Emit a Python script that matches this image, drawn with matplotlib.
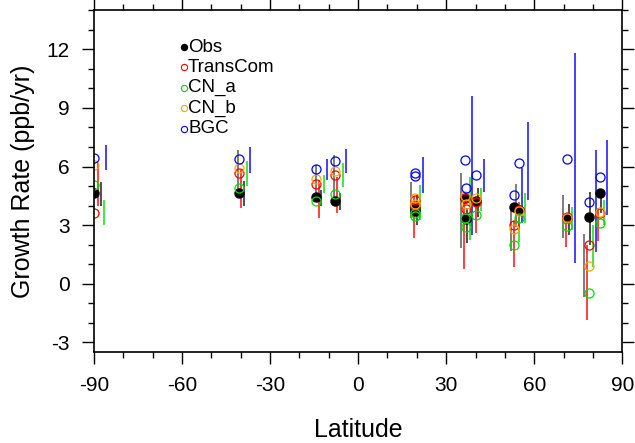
import numpy as np
import matplotlib
matplotlib.use("Agg")
import matplotlib.pyplot as plt

plt.rcParams['font.family'] = ['Liberation Sans', 'DejaVu Sans']
plt.rcParams['axes.unicode_minus'] = False

# station latitudes (markers) and latitude of the first range bar
stations = ['SPO', 'CGO', 'SMO', 'ASC', 'MLO', 'KUM', 'WLG', 'TAP', 'NWR',
            'CBA', 'SHM', 'BRW', 'ZEP', 'ALT']
lat = [-90.0, -40.6, -14.2, -7.9, 19.3, 19.5, 36.4, 36.7, 40.1,
       53.0, 54.9, 71.0, 78.7, 82.3]
bar_lat = [-89.75, -40.8, -14.5, -8.1, 18.0, 18.0, 34.95, 34.95, 39.0,
           51.95, 53.95, 69.8, 76.9, 80.8]

# mean growth rates (ppb/yr)
obs      = [4.64, 4.63, 4.45, 4.25, 3.90, 3.75, 4.37, 3.30, 4.25, 3.91, 3.80, 3.35, 3.40, 4.63]
transcom = [3.62, 5.68, 5.10, 5.56, 4.30, 4.00, 4.40, 3.85, 4.20, 3.00, 3.77, 3.40, 2.00, 3.60]
cn_a     = [5.05, 4.88, 4.23, 4.59, 3.60, 3.45, 3.37, 2.92, 3.52, 1.99, 3.37, 2.95, -0.48, 3.10]
cn_b     = [6.10, 5.95, 5.34, 5.78, 4.40, 4.10, 4.50, 4.10, 4.40, 2.80, 3.70, 3.35, 0.92, 3.69]
bgc      = [6.43, 6.36, 5.85, 6.29, 5.65, 5.50, 6.33, 4.88, 5.56, 4.54, 6.19, 6.41, 4.20, 5.47]

nan = np.nan
# ranges (low, high) per station
obs_rng = [(nan, nan), (4.70, 6.84), (4.29, 6.07), (4.45, 6.58), (3.37, 5.22), (nan, nan),
           (1.84, 5.66), (nan, nan), (nan, nan), (1.70, 3.93), (2.90, 5.10), (2.35, 4.54),
           (-0.68, 2.55), (nan, nan)]
tc_rng = [(4.00, 6.20), (3.90, 5.80), (3.37, 5.30), (3.64, 5.47), (2.35, 4.50), (nan, nan),
          (0.75, 4.60), (nan, nan), (2.60, 4.00), (0.85, 3.20), (2.75, 4.20), (1.90, 3.60),
          (-1.87, 2.00), (2.20, 3.88)]
sd_rng = [(4.00, 5.20), (4.00, 5.25), (4.00, 4.80), (3.78, 4.66), (3.00, 4.54), (nan, nan),
          (2.10, 3.90), (nan, nan), (3.40, 4.90), (nan, nan), (nan, nan), (2.50, 4.08),
          (2.00, 4.70), (3.60, 4.70)]
cna_rng = [(3.00, 4.30), (5.00, 6.30), (4.64, 5.56), (4.97, 6.16), (3.27, 5.05), (nan, nan),
           (2.24, 5.47), (nan, nan), (3.70, 4.90), (2.16, 3.43), (3.10, 4.64), (2.76, 3.94),
           (0.88, 3.00), (3.00, 4.30)]
bgc_rng = [(5.80, 7.10), (5.68, 7.00), (5.30, 6.36), (5.68, 6.92), (4.66, 6.50), (nan, nan),
           (2.50, 9.60), (nan, nan), (4.70, 6.36), (3.10, 5.90), (4.30, 8.30), (1.07, 11.80),
           (1.65, 6.84), (3.52, 7.38)]

fig = plt.figure(figsize=(6.35, 4.43), dpi=100)
ax = fig.add_axes([0.148, 0.205, 0.832, 0.772])

bar_sets = [(obs_rng, 'black', 0.55, 0.0), (tc_rng, 'red', 0.8, 1.0),
            (sd_rng, 'black', 0.75, 2.0), (cna_rng, '#00dd00', 0.8, 3.0),
            (bgc_rng, 'blue', 0.8, 4.0)]
for rng, col, alp, off in bar_sets:
    lo = [r[0] for r in rng]
    hi = [r[1] for r in rng]
    ax.vlines(np.array(bar_lat) + off, lo, hi, colors=col, alpha=alp, linewidth=1.3)

ax.plot(lat, obs, 'o', color='black', markersize=6.5, linestyle='none')
for vals, col in [(transcom, 'red'), (cn_a, '#00dd00'), (cn_b, 'orange'), (bgc, 'blue')]:
    ax.plot(lat, vals, 'o', markerfacecolor='none', markeredgecolor=col,
            markeredgewidth=0.9, markersize=6.5, linestyle='none')

ax.set_xlim(-90, 90)
ax.set_ylim(-3.5, 14)
ax.set_xticks(np.arange(-90, 91, 30))
ax.set_xticks(np.arange(-90, 91, 10), minor=True)
ax.set_yticks([-3, 0, 3, 6, 9, 12])
ax.set_yticks(np.arange(-3, 14.1, 1), minor=True)
ax.tick_params(which='both', direction='out', width=1.0, top=True, right=True,
               labelsize=15)
ax.tick_params(which='major', length=8.5, pad=9)
ax.tick_params(which='minor', length=4)
for s in ax.spines.values():
    s.set_linewidth(1.2)

ax.set_xlabel('Latitude', fontsize=18, labelpad=16)
ax.set_ylabel('Growth Rate (ppb/yr)', fontsize=18, labelpad=8)

# legend
names = ['Obs', 'TransCom', 'CN_a', 'CN_b', 'BGC']
cols = ['black', 'red', '#00dd00', 'orange', 'blue']
for i, (nm, col) in enumerate(zip(names, cols)):
    yy = 0.892 - i * 0.0595
    face = col if nm == 'Obs' else 'none'
    ax.plot([0.170], [yy], 'o', transform=ax.transAxes, markersize=4.5,
            markerfacecolor=face, markeredgecolor=col, markeredgewidth=0.8)
    ax.text(0.178, yy, nm, transform=ax.transAxes, fontsize=13.5, va='center', ha='left')

fig.savefig('out.png', dpi=100)
